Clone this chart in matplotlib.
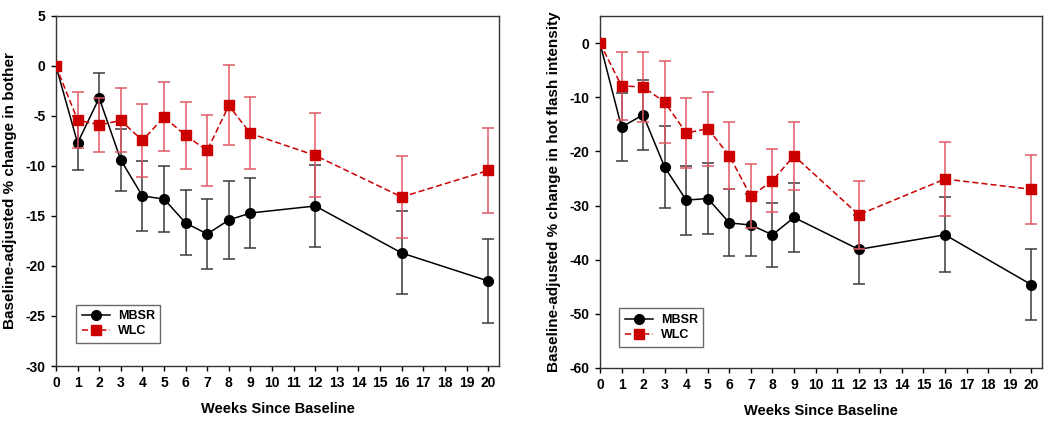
import matplotlib.pyplot as plt
from matplotlib.lines import Line2D

plt.rcParams['font.family'] = ['Liberation Sans', 'DejaVu Sans']
plt.rcParams['font.weight'] = 'bold'
plt.rcParams['axes.unicode_minus'] = False

weeks = [0, 1, 2, 3, 4, 5, 6, 7, 8, 9, 12, 16, 20]

# left panel: % change in bother
bother_mbsr = [0, -7.7, -3.2, -9.4, -13.0, -13.3, -15.7, -16.8, -15.4, -14.7, -14.0, -18.7, -21.5]
bother_mbsr_err = [0, 2.7, 2.5, 3.1, 3.5, 3.3, 3.25, 3.5, 3.9, 3.5, 4.1, 4.15, 4.2]
bother_wlc = [0, -5.4, -5.9, -5.45, -7.45, -5.1, -6.95, -8.45, -3.95, -6.75, -8.95, -13.1, -10.45]
bother_wlc_err = [0, 2.8, 2.7, 3.2, 3.65, 3.45, 3.35, 3.55, 4.0, 3.6, 4.2, 4.1, 4.25]

# right panel: % change in hot flash intensity
flash_mbsr = [0, -15.5, -13.25, -22.9, -29.0, -28.7, -33.2, -33.6, -35.4, -32.2, -38.1, -35.4, -44.6]
flash_mbsr_err = [0, 6.3, 6.45, 7.5, 6.35, 6.6, 6.2, 5.7, 5.9, 6.3, 6.35, 6.9, 6.55]
flash_wlc = [0, -7.9, -8.1, -10.9, -16.6, -15.8, -20.8, -28.3, -25.4, -20.8, -31.7, -25.1, -27.0]
flash_wlc_err = [0, 6.3, 6.5, 7.6, 6.5, 6.85, 6.2, 5.9, 5.8, 6.25, 6.3, 6.8, 6.4]

fig = plt.figure(figsize=(10.5, 4.22), dpi=100)
ax1 = fig.add_axes([0.0533, 0.1327, 0.4219, 0.8294])
ax2 = fig.add_axes([0.5714, 0.128, 0.421, 0.834])


def panel(ax, m, m_err, w, w_err, ylim, yticks, ylabel, leg_anchor):
    ax.errorbar(weeks, m, yerr=m_err, color='black', ecolor='#3a3a3a', elinewidth=1.1,
                capsize=4.5, capthick=1.1, marker='o', markersize=7, linewidth=1.1,
                zorder=3)
    ax.errorbar(weeks, w, yerr=w_err, color='#cc0000', ecolor='#e05a66', elinewidth=1.1,
                capsize=4.5, capthick=1.1, marker='s', markersize=6.5, linewidth=1.1,
                linestyle='--', dashes=(4, 2), zorder=4)
    ax.set_xlim(0, 20.5)
    ax.set_ylim(*ylim)
    ax.set_xticks(range(0, 21))
    ax.set_yticks(yticks)
    ax.tick_params(direction='out', length=3.5, width=1, labelsize=10, pad=4)
    ax.set_xlabel('Weeks Since Baseline', fontsize=10.5, fontweight='bold', labelpad=8)
    ax.set_ylabel(ylabel, fontsize=11, fontweight='bold', labelpad=6)
    for s in ax.spines.values():
        s.set_linewidth(1.0)
        s.set_color('#333333')
    handles = [
        Line2D([], [], color='black', marker='o', markersize=7, linewidth=1.1),
        Line2D([], [], color='#cc0000', marker='s', markersize=6.5, linewidth=1.1,
               linestyle='--', dashes=(4, 2)),
    ]
    leg = ax.legend(handles, ['MBSR', 'WLC'], loc='lower left', bbox_to_anchor=leg_anchor,
                    borderaxespad=0, fancybox=False, edgecolor='#444444', fontsize=9,
                    handlelength=2.3, borderpad=0.45, labelspacing=0.25, handletextpad=0.6)
    leg.get_frame().set_linewidth(1.0)


panel(ax1, bother_mbsr, bother_mbsr_err, bother_wlc, bother_wlc_err,
      (-30, 5), range(-30, 6, 5), 'Baseline-adjusted % change in bother', (0.045, 0.066))
panel(ax2, flash_mbsr, flash_mbsr_err, flash_wlc, flash_wlc_err,
      (-60, 5), range(-60, 1, 10), 'Baseline-adjusted % change in hot flash intensity',
      (0.043, 0.06))

fig.savefig('out.png', dpi=100)
